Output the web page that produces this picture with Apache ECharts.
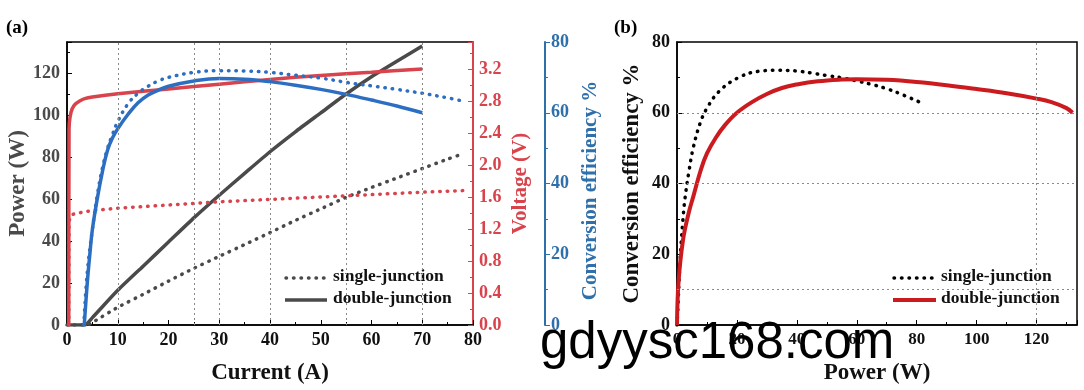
<!DOCTYPE html>
<html>
<head>
<meta charset="utf-8">
<script src="https://cdn.jsdelivr.net/npm/echarts@6/dist/echarts.min.js"></script>
<style>
html,body{margin:0;padding:0;background:#fff;}
#chart{width:1084px;height:390px;}
</style>
</head>
<body>
<div id="chart"></div>
<script>
// ---------- Data (panel a: vs Current, A) ----------
const singlePower = [[0,0],[4,0],[5,1.2],[10,8.4],[15,14.6],[20,20.9],[25,27],[30,32.7],[35,38.3],[40,44],[45,49.8],[50,55.3],[55,60.8],[60,65.5],[65,70],[70,74.5],[75,79],[78,81.5]];
const doublePower = [[0,0],[3.5,0],[5,3.5],[10,16.5],[15,28],[20,39.5],[25,51],[30,61.8],[35,72.2],[40,82.5],[45,92],[50,101],[55,110],[60,118.2],[65,125.6],[70,132.8]];
const singleVoltage = [[0.35,0],[0.4,1.3],[0.9,1.38],[3,1.41],[5,1.43],[10,1.46],[20,1.50],[30,1.54],[40,1.57],[50,1.60],[60,1.63],[70,1.66],[78,1.68]];
const doubleVoltage = [[0.35,0],[0.4,2.45],[0.6,2.6],[1,2.7],[1.6,2.76],[2.5,2.8],[3.5,2.83],[5,2.85],[10,2.89],[20,2.95],[30,3.01],[40,3.07],[50,3.12],[60,3.16],[70,3.20]];
const singleEffA = [[3.3,0],[4,15],[5,27],[6,37],[7,44.5],[8,50],[9,54],[10,57.5],[12,62.5],[14,65.5],[16,67.5],[18,69],[20,70],[25,71.4],[30,71.9],[35,71.8],[40,71.4],[45,70.6],[50,69.8],[55,68.6],[60,67.6],[65,66.6],[70,65.5],[75,64.2],[78,63.3]];
const doubleEffA = [[3.4,0],[4,12],[4.5,20],[5,27],[6,36],[7,43.5],[8,49.5],[9,53],[10,55.5],[12,59.5],[14,62.8],[16,65],[18,66.4],[20,67.5],[25,69],[30,69.7],[35,69.5],[40,68.8],[45,67.8],[50,66.6],[55,65.2],[60,63.6],[65,61.9],[70,60]];
// ---------- Data (panel b: efficiency vs Power, W) ----------
const singleEffB = [[0,0],[0.3,5],[1,18],[2,30],[2.7,36],[4,43.5],[5.4,50],[7.7,57],[10,61.3],[14,66],[20,69.7],[27,71.7],[34,72],[40,71.8],[45,71.2],[50,70.5],[55,69.9],[60,69],[65,68],[70,66.8],[75,65.2],[81,63]];
const doubleEffB = [[0,0],[0.5,12],[2,24],[4,32],[5.5,36.5],[8,44],[10,48.5],[13,53],[16,56.5],[20,60],[25,63],[30,65.3],[35,67],[40,68],[47,68.9],[55,69.4],[60,69.5],[70,69.3],[80,68.7],[90,67.8],[100,66.7],[110,65.5],[120,64],[125,63],[130,61.3],[132,60]];
// grid reference lines
const gridLinesA = [10, 25, 30, 40, 55, 70];
const gridLinesBy = [10, 40, 60];
const gridLinesBx = [120];
const legendNames = ['single-junction', 'double-junction'];

const SERIF = '"Liberation Serif", "Times New Roman", serif';
const GREY = '#4a4a4a';
const RED = '#d8434c';
const BLUE = '#2c6fc2';
const BLUEAX = '#2f6faa';
const DRED = '#cc1b1f';

function lbl(color, size) {
  return {color: color, fontFamily: SERIF, fontWeight: 'bold', fontSize: size || 18};
}
const dots = (c, w) => ({color: c, width: w || 3.5, type: [0.5, 7], cap: 'round'});

const chart = echarts.init(document.getElementById('chart'));
const option = {
  animation: false,
  backgroundColor: '#fff',
  grid: [
    {left: 67, top: 42, width: 406, height: 283, show: true, borderColor: '#000', borderWidth: 1.5, backgroundColor: 'transparent'},
    {left: 677, top: 42, width: 400, height: 283, show: true, borderColor: '#000', borderWidth: 1.5, backgroundColor: 'transparent'}
  ],
  xAxis: [
    {type: 'value', gridIndex: 0, min: 0, max: 80, interval: 10,
     name: 'Current (A)', nameLocation: 'middle', nameGap: 37, nameTextStyle: lbl('#111', 23),
     axisLine: {lineStyle: {color: '#000', width: 1.5}},
     axisTick: {inside: true, length: 5, lineStyle: {color: '#000'}},
     minorTick: {show: true, splitNumber: 2, length: 3, lineStyle: {color: '#000'}},
     axisLabel: Object.assign(lbl('#111'), {margin: 6}),
     splitLine: {show: false}},
    {type: 'value', gridIndex: 1, min: 0, max: 133.5, interval: 20,
     name: 'Power (W)', nameLocation: 'middle', nameGap: 37, nameTextStyle: lbl('#111', 23),
     axisLine: {lineStyle: {color: '#000', width: 1.5}},
     axisTick: {inside: true, length: 5, lineStyle: {color: '#000'}},
     minorTick: {show: true, splitNumber: 2, length: 3, lineStyle: {color: '#000'}},
     axisLabel: Object.assign(lbl('#111', 17), {margin: 6, showMaxLabel: false}),
     splitLine: {show: false}}
  ],
  yAxis: [
    {type: 'value', gridIndex: 0, position: 'left', min: 0, max: 134.76, interval: 20,
     name: 'Power (W)', nameLocation: 'middle', nameGap: 36, nameTextStyle: lbl(GREY, 23),
     axisLine: {show: true, lineStyle: {color: '#000', width: 1.5}},
     axisTick: {inside: true, length: 5, lineStyle: {color: '#000'}},
     minorTick: {show: true, splitNumber: 2, length: 3, lineStyle: {color: '#000'}},
     axisLabel: Object.assign(lbl(GREY), {margin: 7, showMaxLabel: false}),
     splitLine: {show: false}},
    {type: 'value', gridIndex: 0, position: 'right', min: 0, max: 3.5375, interval: 0.4,
     name: 'Voltage (V)', nameLocation: 'middle', nameGap: 37, nameRotate: 90, nameTextStyle: lbl(RED, 21),
     axisLine: {show: true, lineStyle: {color: RED, width: 2}},
     axisTick: {inside: true, length: 5, lineStyle: {color: RED}},
     minorTick: {show: true, splitNumber: 2, length: 3, lineStyle: {color: RED}},
     axisLabel: Object.assign(lbl(RED), {margin: 6, showMaxLabel: false, formatter: v => v.toFixed(1)}),
     splitLine: {show: false}},
    {type: 'value', gridIndex: 0, position: 'right', offset: 72, min: 0, max: 80, interval: 20,
     name: 'Conversion efficiency %', nameLocation: 'middle', nameGap: 35, nameRotate: 90, nameTextStyle: Object.assign(lbl(BLUEAX, 21), {padding: [0, 14, 0, 0]}),
     axisLine: {show: true, lineStyle: {color: BLUEAX, width: 2}},
     axisTick: {inside: false, length: 5, lineStyle: {color: BLUEAX}},
     minorTick: {show: true, splitNumber: 2, length: 3, lineStyle: {color: BLUEAX}},
     axisLabel: Object.assign(lbl(BLUEAX), {margin: 6}),
     splitLine: {show: false}},
    {type: 'value', gridIndex: 1, min: 0, max: 80, interval: 20,
     name: 'Conversion efficiency %', nameLocation: 'middle', nameGap: 33, nameTextStyle: lbl('#111', 23),
     axisLine: {show: true, lineStyle: {color: '#000', width: 1.5}},
     axisTick: {inside: true, length: 5, lineStyle: {color: '#000'}},
     minorTick: {show: true, splitNumber: 2, length: 3, lineStyle: {color: '#000'}},
     axisLabel: Object.assign(lbl('#111'), {margin: 7}),
     splitLine: {show: false}}
  ],
  series: [
    {type: 'line', xAxisIndex: 0, yAxisIndex: 0, data: [[0,0]], symbol: 'none', lineStyle: {opacity: 0}, silent: true, z: 1,
     markLine: {silent: true, symbol: 'none', label: {show: false},
       lineStyle: {color: '#8a8a8a', width: 1, type: [2, 3]},
       data: gridLinesA.map(v => ({xAxis: v}))}},
    {type: 'line', xAxisIndex: 1, yAxisIndex: 3, data: [[0,0]], symbol: 'none', lineStyle: {opacity: 0}, silent: true, z: 1,
     markLine: {silent: true, symbol: 'none', label: {show: false},
       lineStyle: {color: '#8a8a8a', width: 1, type: [2, 3]},
       data: gridLinesBy.map(v => ({yAxis: v})).concat(gridLinesBx.map(v => ({xAxis: v})))}},
    {name: 'single power', type: 'line', xAxisIndex: 0, yAxisIndex: 0, data: singlePower, symbol: 'none', smooth: 0.2, lineStyle: dots(GREY), z: 3},
    {name: 'double power', type: 'line', xAxisIndex: 0, yAxisIndex: 0, data: doublePower, symbol: 'none', smooth: 0.2, lineStyle: {color: GREY, width: 3.5}, z: 3},
    {name: 'single voltage', type: 'line', xAxisIndex: 0, yAxisIndex: 1, data: singleVoltage, symbol: 'none', lineStyle: dots(RED), z: 3},
    {name: 'double voltage', type: 'line', xAxisIndex: 0, yAxisIndex: 1, data: doubleVoltage, symbol: 'none', smooth: 0.3, lineStyle: {color: RED, width: 3.5}, z: 3},
    {name: 'single eff', type: 'line', xAxisIndex: 0, yAxisIndex: 2, data: singleEffA, symbol: 'none', smooth: 0.4, lineStyle: dots(BLUE), z: 4},
    {name: 'double eff', type: 'line', xAxisIndex: 0, yAxisIndex: 2, data: doubleEffA, symbol: 'none', smooth: 0.4, lineStyle: {color: BLUE, width: 3.5}, z: 4},
    {name: 'single eff b', type: 'line', xAxisIndex: 1, yAxisIndex: 3, data: singleEffB, symbol: 'none', smooth: 0.4, lineStyle: dots('#000', 3.5), z: 3},
    {name: 'double eff b', type: 'line', xAxisIndex: 1, yAxisIndex: 3, data: doubleEffB, symbol: 'none', smooth: 0.4, lineStyle: {color: DRED, width: 4}, z: 3}
  ],
  graphic: [
    {type: 'text', left: 6, top: 19, style: {text: '(a)', font: 'bold 19px ' + SERIF, fill: '#000'}},
    {type: 'text', left: 614, top: 19, style: {text: '(b)', font: 'bold 19px ' + SERIF, fill: '#000'}},
    // legend panel (a)
    {type: 'line', shape: {x1: 286, y1: 278, x2: 326, y2: 278}, style: {stroke: GREY, lineWidth: 3.5, lineDash: [0.5, 7], lineCap: 'round'}},
    {type: 'line', shape: {x1: 285, y1: 300, x2: 327, y2: 300}, style: {stroke: GREY, lineWidth: 3.5}},
    {type: 'text', left: 333, top: 267, style: {text: legendNames[0], font: 'bold 17.5px ' + SERIF, fill: '#111'}},
    {type: 'text', left: 333, top: 289, style: {text: legendNames[1], font: 'bold 17.5px ' + SERIF, fill: '#111'}},
    // legend panel (b)
    {type: 'line', shape: {x1: 894, y1: 278, x2: 934, y2: 278}, style: {stroke: '#000', lineWidth: 3.5, lineDash: [0.5, 7], lineCap: 'round'}},
    {type: 'line', shape: {x1: 893, y1: 300, x2: 936, y2: 300}, style: {stroke: DRED, lineWidth: 4}},
    {type: 'text', left: 941, top: 267, style: {text: legendNames[0], font: 'bold 17.5px ' + SERIF, fill: '#111'}},
    {type: 'text', left: 941, top: 289, style: {text: legendNames[1], font: 'bold 17.5px ' + SERIF, fill: '#111'}},
    // watermark
    {type: 'text', left: 540, top: 318, z: 100, style: {text: 'gdyysc168.com', font: '51px "Liberation Sans", Arial, sans-serif', fill: '#000'}}
  ]
};
chart.setOption(option);
</script>
</body>
</html>
